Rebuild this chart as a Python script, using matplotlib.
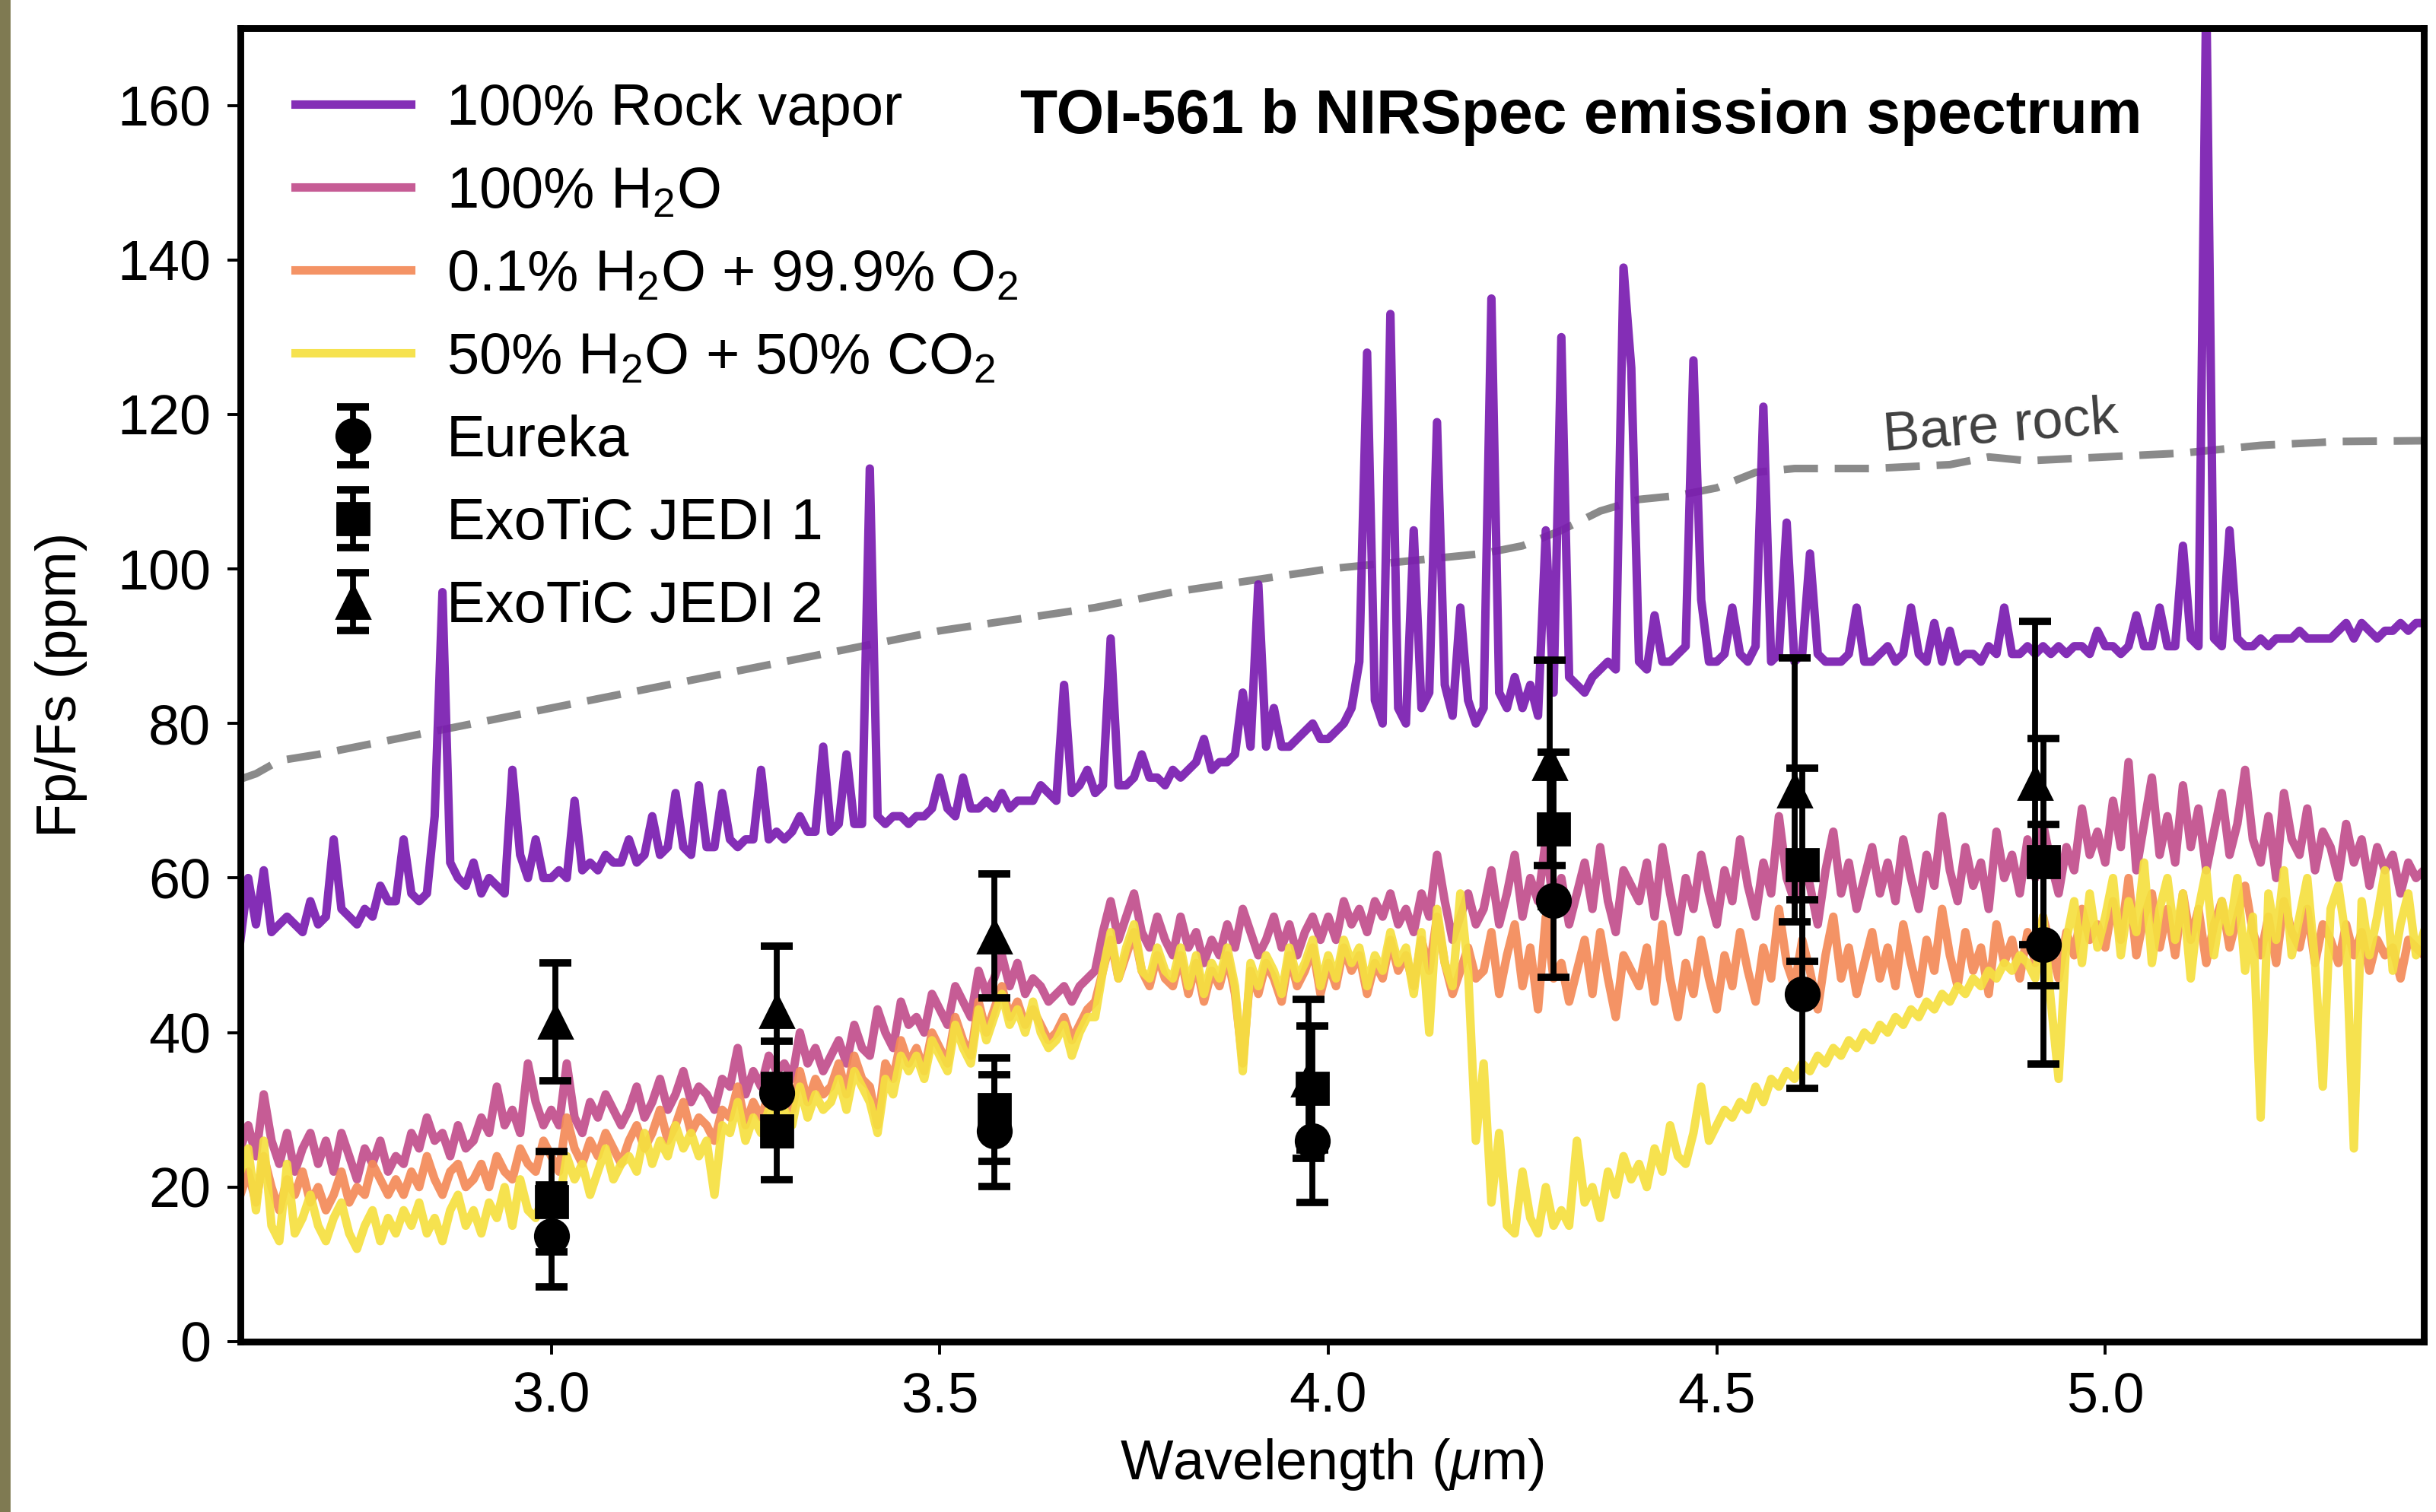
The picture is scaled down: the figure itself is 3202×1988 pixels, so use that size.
import numpy as np
import matplotlib
matplotlib.use("Agg")
from matplotlib import pyplot as plt
from matplotlib.patches import Rectangle

plt.rcParams['font.family'] = ['Liberation Sans', 'DejaVu Sans']
plt.rcParams['mathtext.fontset'] = 'custom'
plt.rcParams['mathtext.rm'] = 'Liberation Sans'
plt.rcParams['mathtext.it'] = 'Liberation Sans:italic'

# model spectra, sampled every 0.01 um starting at 2.60 um (ppm)
wl_start = 2.60
wl_step = 0.01

rock_vapor = [
    52, 60, 54, 61, 53, 54, 55, 54, 53, 57,
    54, 55, 65, 56, 55, 54, 56, 55, 59, 57,
    57, 65, 58, 57, 58, 68, 97, 62, 60, 59,
    62, 58, 60, 59, 58, 74, 63, 60, 65, 60,
    60, 61, 60, 70, 61, 62, 61, 63, 62, 62,
    65, 62, 63, 68, 63, 64, 71, 64, 63, 72,
    64, 64, 71, 65, 64, 65, 65, 74, 65, 66,
    65, 66, 68, 66, 66, 77, 66, 67, 76, 67,
    67, 113, 68, 67, 68, 68, 67, 68, 68, 69,
    73, 69, 68, 73, 69, 69, 70, 69, 71, 69,
    70, 70, 70, 72, 71, 70, 85, 71, 72, 74,
    71, 72, 91, 72, 72, 73, 76, 73, 73, 72,
    74, 73, 74, 75, 78, 74, 75, 75, 76, 84,
    77, 98, 77, 82, 77, 77, 78, 79, 80, 78,
    78, 79, 80, 82, 88, 128, 83, 80, 133, 82,
    80, 105, 82, 84, 119, 85, 81, 95, 83, 80,
    82, 135, 84, 82, 86, 82, 85, 81, 105, 84,
    130, 86, 85, 84, 86, 87, 88, 87, 139, 126,
    88, 87, 94, 88, 88, 89, 90, 127, 96, 88,
    88, 89, 95, 89, 88, 90, 121, 88, 89, 106,
    88, 89, 102, 89, 88, 88, 88, 89, 95, 88,
    88, 89, 90, 88, 89, 95, 89, 88, 93, 88,
    92, 88, 89, 89, 88, 90, 89, 95, 89, 89,
    90, 89, 90, 89, 90, 89, 90, 90, 89, 92,
    90, 90, 89, 90, 94, 90, 90, 95, 90, 90,
    103, 91, 90, 175, 91, 90, 105, 91, 90, 90,
    91, 90, 91, 91, 91, 92, 91, 91, 91, 91,
    92, 93, 91, 93, 92, 91, 92, 92, 93, 92,
    93, 93,
]

h2o = [
    25, 28, 24, 32, 26, 23, 27, 22, 25, 27,
    23, 26, 22, 27, 24, 21, 25, 23, 26, 22,
    24, 23, 27, 25, 29, 26, 27, 24, 28, 25,
    26, 29, 27, 33, 28, 30, 27, 36, 31, 28,
    30, 28, 36, 29, 27, 31, 29, 32, 30, 28,
    30, 33, 29, 31, 34, 30, 32, 35, 31, 33,
    32, 30, 34, 33, 38, 32, 35, 33, 37, 35,
    36, 34, 40, 36, 38, 35, 37, 39, 36, 41,
    38, 37, 43, 40, 38, 44, 41, 42, 40, 45,
    43, 41, 46, 44, 42, 48, 45, 47, 50, 46,
    49, 45, 47, 46, 44, 45, 46, 44, 46, 47,
    48, 53, 57, 52, 55, 58, 53, 51, 55, 52,
    50, 55, 51, 53, 49, 52, 50, 54, 51, 56,
    53, 50, 52, 55, 51, 54, 50, 53, 55, 52,
    55, 52, 57, 54, 56, 53, 57, 55, 58, 54,
    56, 53, 58, 55, 63, 57, 52, 55, 58, 54,
    56, 61, 54, 58, 63, 55, 60, 57, 65, 56,
    60, 54, 58, 62, 56, 64, 57, 53, 61, 59,
    57, 62, 55, 64, 58, 53, 60, 56, 63, 58,
    54, 61, 57, 65, 59, 55, 62, 58, 68, 60,
    57, 63, 59, 54, 61, 66, 58, 62, 56, 60,
    64, 58, 62, 57, 65, 60, 56, 63, 59, 68,
    61, 57, 64, 59, 62, 56, 66, 60, 63, 58,
    65, 60, 67, 62, 58, 64, 61, 69, 63, 66,
    62, 70, 64, 75, 61, 67, 73, 63, 68, 62,
    72, 64, 69, 61, 66, 71, 63, 67, 74, 65,
    62, 68, 60, 71, 65, 63, 69, 61, 66, 64,
    60, 67, 62, 65, 59, 64, 61, 63, 58, 62,
    60, 61,
]

h2o_o2 = [
    19, 22, 18, 24, 20, 17, 21, 19, 22, 18,
    20, 17, 19, 22, 18, 20, 19, 23, 21, 19,
    21, 19, 22, 20, 24, 21, 19, 22, 23, 20,
    21, 23, 20, 24, 22, 21, 25, 23, 22, 26,
    24, 22, 29, 25, 23, 26, 24, 27, 25, 23,
    26, 28, 25, 27, 30, 26, 28, 31, 27, 29,
    28, 26, 30, 29, 33, 28, 31, 29, 32, 30,
    32, 30, 35, 31, 34, 32, 33, 36, 32, 37,
    34, 33, 28, 36, 34, 39, 36, 38, 35, 40,
    38, 36, 42, 39, 37, 44, 40, 43, 46, 42,
    44, 41, 43, 41, 39, 40, 42, 39, 41, 43,
    44, 48, 52, 47, 50, 53, 48, 46, 50, 47,
    46, 50, 45, 49, 44, 48, 46, 50, 45, 36,
    48, 45, 49, 47, 44, 50, 46, 48, 51, 45,
    49, 46, 51, 48, 50, 45, 49, 47, 52, 48,
    50, 46, 52, 48, 55, 49, 45, 48, 51, 47,
    48, 53, 45, 50, 54, 46, 51, 43, 55, 47,
    49, 44, 48, 52, 45, 53, 47, 42, 50, 48,
    46, 51, 44, 54, 47, 42, 49, 45, 52, 47,
    43, 50, 46, 53, 48, 44, 51, 47, 56, 49,
    46, 52, 48, 43, 50, 55, 47, 51, 45, 49,
    53, 47, 51, 46, 54, 49, 45, 52, 48, 56,
    50, 46, 53, 48, 51, 45, 54, 49, 52, 47,
    53, 49, 55, 51, 47, 53, 50, 56, 52, 54,
    51, 57, 52, 60, 50, 55, 58, 51, 56, 50,
    58, 52, 56, 49, 54, 57, 51, 55, 59, 53,
    50, 55, 49, 57, 53, 51, 56, 49, 54, 52,
    49, 54, 50, 53, 48, 52, 50, 51, 47, 52,
    51, 50,
]

h2o_co2 = [
    22, 25, 17, 26, 15, 13, 23, 14, 16, 19,
    15, 13, 16, 18, 14, 12, 15, 17, 13, 16,
    14, 17, 15, 18, 14, 16, 13, 17, 19, 15,
    17, 14, 18, 16, 20, 15, 21, 17, 16, 19,
    20, 18, 24, 21, 23, 19, 22, 25, 21, 23,
    24, 22, 27, 23, 26, 24, 28, 25, 27, 24,
    26, 19, 28, 27, 31, 26, 29, 27, 30, 28,
    30, 28, 33, 29, 32, 30, 31, 34, 30, 35,
    33, 31, 27, 34, 32, 37, 35, 37, 34, 39,
    37, 35, 41, 38, 36, 43, 39, 42, 45, 41,
    43, 40, 44, 40, 38, 39, 41, 37, 40, 42,
    42, 48, 53, 47, 51, 54, 48, 47, 51, 48,
    47, 51, 46, 50, 45, 49, 47, 51, 46, 35,
    49, 46, 50, 48, 45, 51, 47, 49, 52, 46,
    50, 47, 52, 49, 51, 46, 50, 48, 53, 49,
    51, 45, 53, 40, 56, 49, 46, 58, 48, 26,
    36, 18, 27, 15, 14, 22, 16, 14, 20, 15,
    17, 15, 26, 18, 20, 16, 22, 19, 24, 21,
    23, 20, 25, 22, 28, 24, 23, 27, 33, 26,
    28, 30, 29, 31, 30, 33, 31, 34, 33, 35,
    34, 36, 35, 37, 36, 38, 37, 39, 38, 40,
    39, 41, 40, 42, 41, 43, 42, 44, 43, 45,
    44, 46, 45, 47, 46, 48, 47, 49, 48, 50,
    49, 47, 55, 44, 34, 52, 57, 49, 58, 51,
    55, 60, 50, 57, 53, 62, 49, 56, 60, 52,
    58, 47, 56, 61, 50, 57, 53, 60, 48, 55,
    29, 58, 52, 61, 50, 55, 60, 49, 33, 56,
    59, 52, 25, 57, 50, 55, 61, 48, 54, 58,
    50, 53,
]

# bare rock model
bare_wl = [2.60, 2.62, 2.65, 2.70, 2.80, 2.90, 3.00, 3.10, 3.20, 3.30, 3.40,
           3.50, 3.60, 3.70, 3.80, 3.90, 4.00, 4.10, 4.20, 4.25, 4.30, 4.35,
           4.40, 4.45, 4.50, 4.55, 4.60, 4.70, 4.80, 4.85, 4.90, 5.00, 5.10,
           5.15, 5.20, 5.30, 5.41]
bare_rock = [72.8, 73.5, 75.2, 76, 78, 80, 82, 84, 86, 88, 90,
             92, 93.5, 95, 97, 98.5, 100, 101, 102, 103, 105, 107.5,
             109, 109.5, 110.5, 112.5, 113, 113, 113.5, 114.5, 114, 114.5, 115,
             115.5, 116, 116.5, 116.6]

# observed eclipse depths
eureka_x = [3.00, 3.29, 3.57, 3.98, 4.29, 4.61, 4.92]
eureka_y = [13.7, 32.2, 27.3, 26.0, 57.1, 45.0, 51.4]
eureka_err = [6.6, 6.7, 7.2, 8.0, 10.0, 12.2, 15.5]

jedi1_x = [3.00, 3.29, 3.57, 3.98, 4.29, 4.61, 4.92]
jedi1_y = [18.1, 27.3, 30.0, 32.8, 66.3, 61.7, 62.1]
jedi1_err = [6.5, 6.3, 6.7, 8.0, 10.0, 12.5, 16.0]

jedi2_x = [3.005, 3.29, 3.57, 3.975, 4.285, 4.60, 4.91]
jedi2_y = [41.4, 42.8, 52.5, 34.0, 74.9, 71.4, 72.3]
jedi2_err = [7.6, 8.4, 8.0, 10.3, 13.3, 17.1, 20.9]

models = [
    (rock_vapor, '#7a1cb0', '100% Rock vapor'),
    (h2o, '#c24e8c', r'100% H$_\mathrm{2}$O'),
    (h2o_o2, '#f48a58', r'0.1% H$_\mathrm{2}$O + 99.9% O$_\mathrm{2}$'),
    (h2o_co2, '#f6e040', r'50% H$_\mathrm{2}$O + 50% CO$_\mathrm{2}$'),
]

fig = plt.figure(figsize=(16.01, 9.94), dpi=200)
ax = fig.add_axes([0.0987, 0.1127, 0.8963, 0.8687])

# scanned-edge strip on the left of the original figure
fig.patches.append(Rectangle((0, 0), 12 / 3202, 1, transform=fig.transFigure,
                             color='#7f7a52', zorder=0))

for vals, col, lab in models:
    wl = wl_start + wl_step * np.arange(len(vals))
    ax.plot(wl, vals, color=col, lw=4.0, alpha=0.92, label=lab, zorder=2)

ax.plot(bare_wl, bare_rock, color='#8a8a8a', lw=3.6, dashes=(4.5, 2.2), zorder=1.5)
ax.text(4.865, 118.3, 'Bare rock', color='#404040', fontsize=26, rotation=4.5,
        ha='center', va='center')

ebkw = dict(color='black', ls='none', elinewidth=2.8, capsize=7.5, capthick=3.5, zorder=5)
ax.errorbar(eureka_x, eureka_y, yerr=eureka_err, marker='o', ms=16, label='Eureka', **ebkw)
ax.errorbar(jedi1_x, jedi1_y, yerr=jedi1_err, marker='s', ms=15, label='ExoTiC JEDI 1', **ebkw)
ax.errorbar(jedi2_x, jedi2_y, yerr=jedi2_err, marker='^', ms=16, label='ExoTiC JEDI 2', **ebkw)

ax.set_xlim(2.6, 5.41)
ax.set_ylim(0, 170)
ax.set_xticks([3.0, 3.5, 4.0, 4.5, 5.0])
ax.set_yticks([0, 20, 40, 60, 80, 100, 120, 140, 160])
ax.tick_params(labelsize=26.5, length=6, width=1.4, direction='out', pad=8)
for s in ax.spines.values():
    s.set_linewidth(3.2)

ax.set_xlabel(r'Wavelength ($\mu$m)', fontsize=26.5, labelpad=6)
ax.set_ylabel('Fp/Fs (ppm)', fontsize=26.5, labelpad=14)

ax.text(0.357, 0.932, 'TOI-561 b NIRSpec emission spectrum', transform=ax.transAxes,
        fontsize=29, fontweight='bold', ha='left', va='center')

leg = ax.legend(loc='upper left', bbox_to_anchor=(0.0, 1.0), frameon=False,
                fontsize=27.3, handlelength=2.0, handletextpad=0.62,
                labelspacing=0.5, borderpad=0.7, borderaxespad=0.25)

fig.savefig('out.png', dpi=200)
